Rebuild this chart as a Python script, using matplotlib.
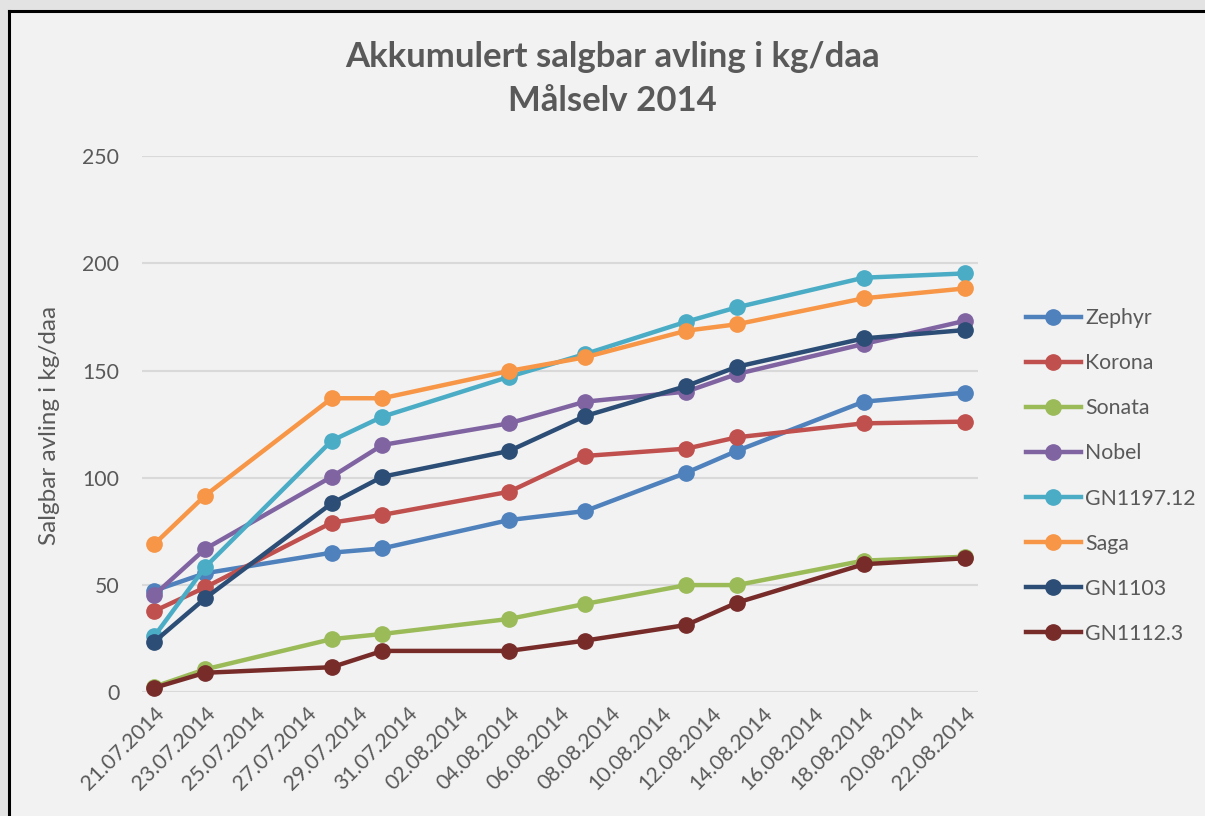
import matplotlib.pyplot as plt
import matplotlib.dates as mdates
from matplotlib.patches import Rectangle
from matplotlib.lines import Line2D
from datetime import datetime, timedelta

dates = ['21.07.2014', '23.07.2014', '28.07.2014', '30.07.2014', '04.08.2014',
         '07.08.2014', '11.08.2014', '13.08.2014', '18.08.2014', '22.08.2014']

zephyr = [47.4, 55.5, 65.1, 67.1, 80.3, 84.5, 102.4, 112.6, 135.5, 139.7]
korona = [37.9, 48.9, 79.1, 82.7, 93.5, 110.2, 113.6, 118.9, 125.4, 126.2]
sonata = [2.6, 10.7, 24.8, 27.2, 34.2, 41.2, 50.0, 50.0, 61.4, 63.2]
nobel = [45.4, 66.8, 100.5, 115.3, 125.4, 135.5, 140.2, 148.4, 162.4, 173.2]
gn1197 = [26.2, 58.3, 117.3, 128.5, 147.1, 157.7, 172.8, 179.5, 193.3, 195.3]
saga = [69.1, 91.7, 137.1, 137.1, 149.8, 156.2, 168.6, 171.6, 183.7, 188.3]
gn1103 = [23.6, 43.8, 88.1, 100.5, 112.5, 128.8, 142.8, 151.8, 165.0, 168.9]
gn1112 = [2.1, 9.1, 11.7, 19.3, 19.3, 24.1, 31.4, 41.8, 59.7, 62.5]

names = ['Zephyr', 'Korona', 'Sonata', 'Nobel', 'GN1197.12', 'Saga', 'GN1103', 'GN1112.3']
series = [zephyr, korona, sonata, nobel, gn1197, saga, gn1103, gn1112]
colors = ['#4F81BD', '#C0504D', '#9BBB59', '#8064A2', '#4BACC6', '#F79646', '#2C4D75', '#772C2A']

txt = '#595959'
plt.rcParams['font.family'] = ['Lato', 'DejaVu Sans']

x = [datetime.strptime(d, '%d.%m.%Y') for d in dates]

fig = plt.figure(figsize=(12.05, 8.16), dpi=100, facecolor='#E3E3E3')
# chart area (cropped screenshot: only top and left frame edges visible)
x0, y0 = 9 / 1205, 1 - 11 / 816
fig.patches.append(Rectangle((x0, 0), 1 - x0, y0, transform=fig.transFigure,
                             facecolor='#F2F2F2', edgecolor='none', zorder=-10))
fig.lines.append(Line2D([x0, x0], [0, y0], transform=fig.transFigure, color='black', lw=2.2))
fig.lines.append(Line2D([x0, 1], [y0, y0], transform=fig.transFigure, color='black', lw=2.2))

ax = fig.add_axes([141.7 / 1205, 1 - 692.3 / 816, (977.7 - 141.7) / 1205, (692.3 - 156.1) / 816])
ax.set_facecolor('none')

for name, vals, c in zip(names, series, colors):
    ax.plot(x, vals, color=c, lw=3.2, marker='o', ms=11, label=name, clip_on=False)

ax.set_ylim(0, 250)
ax.set_yticks(range(0, 251, 50))
ax.set_xlim(x[0] - timedelta(hours=12), x[-1] + timedelta(hours=12))
ticks = [x[0] + timedelta(days=2 * i) for i in range(17)]
ax.set_xticks(ticks)
ax.xaxis.set_major_formatter(mdates.DateFormatter('%d.%m.%Y'))
for lab in ax.get_xticklabels():
    lab.set_rotation(45)
    lab.set_ha('right')
    lab.set_rotation_mode('anchor')

ax.grid(axis='y', color='#D9D9D9', lw=1.5)
ax.set_axisbelow(True)
for s in ax.spines.values():
    s.set_visible(False)
ax.tick_params(length=0, colors=txt, labelsize=15.3)
ax.tick_params(axis='y', pad=16)
ax.tick_params(axis='x', pad=8)

ax.set_ylabel('Salgbar avling i kg/daa', color=txt, fontsize=17.5)
ax.yaxis.set_label_coords(60 / 1205, 1 - 425 / 816, transform=fig.transFigure)

fig.text(612.5 / 1205, 1 - 57 / 816, 'Akkumulert salgbar avling i kg/daa', ha='center', va='center',
         fontsize=25, fontweight='bold', color=txt)
fig.text(612.5 / 1205, 1 - 101 / 816, 'Målselv 2014', ha='center', va='center',
         fontsize=25, fontweight='bold', color=txt)

leg = ax.legend(loc='center left', bbox_to_anchor=(1015 / 1205, 1 - 476 / 816),
                bbox_transform=fig.transFigure, frameon=False, fontsize=15.3,
                handlelength=2.6, handletextpad=0.2, labelspacing=1.18, borderpad=0)
for t in leg.get_texts():
    t.set_color(txt)

fig.savefig('out.png', dpi=100, facecolor=fig.get_facecolor())
